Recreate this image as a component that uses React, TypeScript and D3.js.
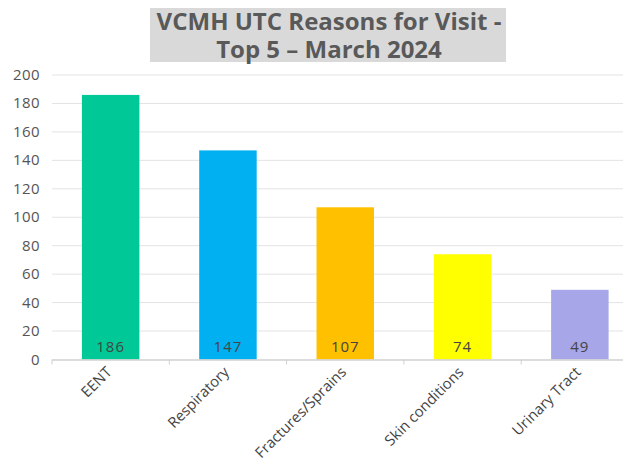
import React from "react";
import * as d3 from "d3";

const categories = ["EENT", "Respiratory", "Fractures/Sprains", "Skin conditions", "Urinary Tract"];
const visits = [186, 147, 107, 74, 49];
const barColors = ["#00c997", "#00b0f0", "#ffc000", "#ffff00", "#a6a6e8"];
const yTicks = [0, 20, 40, 60, 80, 100, 120, 140, 160, 180, 200];
const titleLines = ["VCMH UTC Reasons for Visit -", "Top 5 \u2013 March 2024"];

export default function App() {
  const width = 631;
  const height = 468;
  const left = 52;
  const right = 638.5;
  const top = 75;
  const bottom = 359.5;
  const font = "'Open Sans', sans-serif";

  const x = d3.scaleBand().domain(categories).range([left, right]).paddingInner(0).paddingOuter(0);
  const y = d3.scaleLinear().domain([0, 200]).range([bottom, top]);
  const barW = x.bandwidth() * 0.49;

  return (
    <div style={{ margin: -8, width, height, overflow: "hidden", background: "#fff" }}>
      <svg width={width} height={height} style={{ display: "block" }}>
        <rect x={150} y={1} width={356} height={61} fill="#d9d9d9" />
        {titleLines.map((t, i) => (
          <text key={i} x={329} y={29.5 + i * 28.5} textAnchor="middle" fill="#595959"
            style={{ fontFamily: font, fontSize: 24, fontWeight: 700 }}>{t}</text>
        ))}

        {yTicks.map(t => (
          <g key={t}>
            {t > 0 && <line x1={left} x2={right} y1={y(t)} y2={y(t)} stroke="#e3e3e3" strokeWidth={1} />}
            <text x={40} y={y(t) + 5} textAnchor="end" fill="#555"
              style={{ fontFamily: font, fontSize: 15, letterSpacing: 0.4 }}>{t}</text>
          </g>
        ))}

        {categories.map((c, i) => {
          const cx = x(c)! + x.bandwidth() / 2;
          return (
            <g key={c}>
              <rect x={cx - barW / 2} y={y(visits[i])} width={barW} height={bottom - y(visits[i])} fill={barColors[i]} />
              <text x={cx} y={352} textAnchor="middle" fill="#444"
                style={{ fontFamily: font, fontSize: 15, letterSpacing: 1 }}>{visits[i]}</text>
              <text transform={`translate(${cx + 2},${373}) rotate(-45)`} textAnchor="end" fill="#444"
                style={{ fontFamily: font, fontSize: 14.8 }}>{c}</text>
            </g>
          );
        })}

        <line x1={left} x2={right} y1={bottom + 0.5} y2={bottom + 0.5} stroke="#d0d0d0" strokeWidth={1.5} />
        {categories.concat([""]).map((c, i) => (
          <line key={i} x1={left + i * x.bandwidth()} x2={left + i * x.bandwidth()} y1={bottom} y2={bottom + 5}
            stroke="#d0d0d0" strokeWidth={1} />
        ))}
      </svg>
    </div>
  );
}
